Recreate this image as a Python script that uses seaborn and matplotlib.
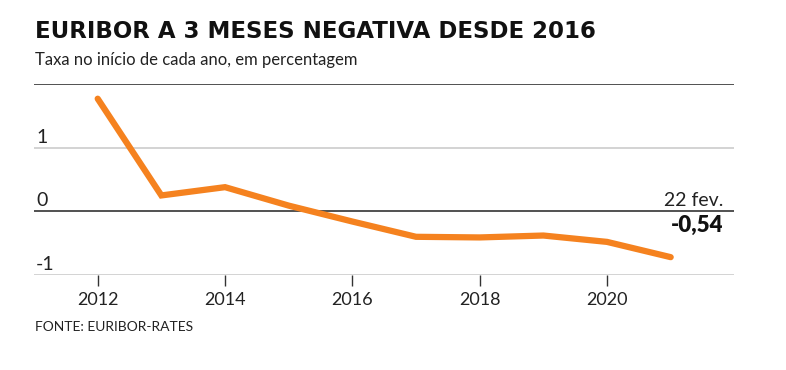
import numpy as np
import pandas as pd
import matplotlib
matplotlib.use('Agg')
import matplotlib.pyplot as plt
import matplotlib.transforms as mtransforms
import seaborn as sns

# dados
anos = [2012, 2013, 2014, 2015, 2016, 2017, 2018, 2019, 2020, 2021]
taxa = [1.77, 0.25, 0.38, 0.09, -0.16, -0.40, -0.41, -0.38, -0.48, -0.72]
xticks = [2012, 2014, 2016, 2018, 2020]
yticks = [-1, 0, 1]
ultimo_valor = '-0,54'

sns.set_theme(style='white')
plt.rcParams['font.family'] = ['Lato', 'DejaVu Sans']

df = pd.DataFrame({'ano': anos, 'taxa': taxa})

fig = plt.figure(figsize=(7.86, 3.70), dpi=100)
ax = fig.add_axes([0.0433, 0.2568, 0.891, 0.516])

# linhas de grelha horizontais
ax.axhline(2, color='#333333', lw=1.2, zorder=1)
ax.axhline(0, color='#333333', lw=1.2, zorder=1)
for v in [1, -1]:
    ax.axhline(v, color='#cccccc', lw=1.2, zorder=1)

sns.lineplot(data=df, x='ano', y='taxa', color='#f5821f', lw=4.5,
             solid_capstyle='round', solid_joinstyle='miter', ax=ax, zorder=3)

ax.set_xlim(2011, 2022)
ax.set_ylim(-1, 2)
for s in ax.spines.values():
    s.set_visible(False)

ax.set_xticks(xticks)
ax.set_xticklabels([str(x) for x in xticks], fontsize=13, color='#222222')
ax.tick_params(axis='x', bottom=True, length=8, width=1, color='#333333',
               pad=4, direction='out')
ax.set_yticks([])
ax.set_xlabel('')
ax.set_ylabel('')

# rótulos do eixo y por cima das linhas
trans = mtransforms.blended_transform_factory(ax.transAxes, ax.transData)
for v in yticks:
    ax.text(0.003, v + 0.03, str(v), transform=trans, fontsize=14,
            color='#222222', ha='left', va='bottom')

# anotação do último valor
ax.text(0.985, 0.03, '22 fev.', transform=trans, fontsize=14,
        color='#222222', ha='right', va='bottom')
ax.text(0.985, -0.05, ultimo_valor, transform=trans, fontsize=16,
        fontweight='heavy', color='#111111', ha='right', va='top')

fig.text(0.044, 0.897, 'EURIBOR A 3 MESES NEGATIVA DESDE 2016',
         fontsize=16.5, fontweight='heavy', color='#111111',
         family=['DejaVu Sans'], ha='left', va='baseline')
fig.text(0.044, 0.824, 'Taxa no início de cada ano, em percentagem',
         fontsize=12, color='#222222', ha='left', va='baseline')
fig.text(0.044, 0.105, 'FONTE: EURIBOR-RATES', fontsize=10,
         color='#222222', ha='left', va='baseline')

fig.savefig('out.png', dpi=100, facecolor='white')
